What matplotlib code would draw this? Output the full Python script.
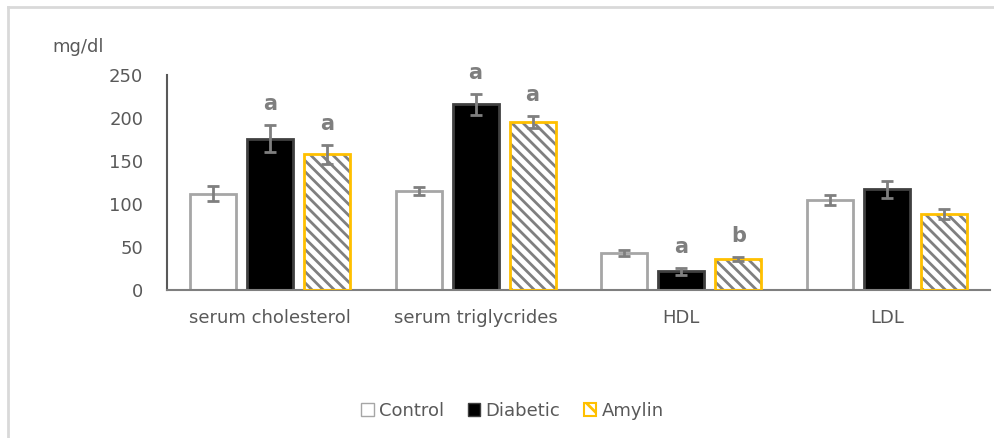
import numpy as np
import matplotlib
matplotlib.use("Agg")
import matplotlib.pyplot as plt
from matplotlib.patches import Patch
from matplotlib.lines import Line2D

plt.rcParams['font.family'] = ['DejaVu Sans']
plt.rcParams['hatch.linewidth'] = 2.0

categories = ["serum cholesterol", "serum triglycrides", "HDL", "LDL"]
groups = ["Control", "Diabetic", "Amylin"]
control = [112, 115, 43, 105]
control_err = [9, 5, 3, 6]
diabetic = [176, 216, 22, 117]
diabetic_err = [16, 12, 4, 10]
amylin = [158, 195, 36, 88]
amylin_err = [11, 7, 2.5, 6]
# significance letters (Diabetic, Amylin)
sig_diabetic = ["a", "a", "a", ""]
sig_amylin = ["a", "a", "b", ""]

yticks = [0, 50, 100, 150, 200, 250]

txt = "#595959"
errc = "#7f7f7f"

fig = plt.figure(figsize=(9.95, 4.38), dpi=100)
ax = fig.add_axes([0.1678, 0.3379, 0.8271, 0.4909])

x = np.arange(len(categories))
w = 0.223
step = 0.277

ekw = dict(ecolor=errc, elinewidth=2, capsize=4.5, capthick=2)

ax.bar(x - step, control, w, color="white", edgecolor="#a6a6a6", linewidth=2,
       yerr=control_err, error_kw=ekw, zorder=2)
ax.bar(x, diabetic, w, color="black", edgecolor="#404040", linewidth=2,
       yerr=diabetic_err, error_kw=ekw, zorder=2)
# hatched fill, then the gold outline on top
ax.bar(x + step, amylin, w, color="white", edgecolor="#808080", linewidth=0,
       hatch="\\\\\\", zorder=2)
ax.bar(x + step, amylin, w, color="none", edgecolor="#ffc000", linewidth=2,
       yerr=amylin_err, error_kw=ekw, zorder=3)

for i in range(len(categories)):
    if sig_diabetic[i]:
        ax.annotate(sig_diabetic[i], (x[i], diabetic[i] + diabetic_err[i]),
                    xytext=(0, 15), textcoords="offset points", ha="center",
                    va="center", fontsize=15, fontweight="bold", color=errc)
    if sig_amylin[i]:
        ax.annotate(sig_amylin[i], (x[i] + step, amylin[i] + amylin_err[i]),
                    xytext=(0, 15), textcoords="offset points", ha="center",
                    va="center", fontsize=15, fontweight="bold", color=errc)

ax.set_xlim(-0.5, len(categories) - 0.5)
ax.set_ylim(0, 250)
ax.set_yticks(yticks)
ax.set_xticks(x)
ax.set_xticklabels(categories)
ax.tick_params(axis="y", length=0, pad=17, labelsize=13, labelcolor=txt)
ax.tick_params(axis="x", length=0, pad=14, labelsize=13, labelcolor=txt)
for s in ["top", "right"]:
    ax.spines[s].set_visible(False)
ax.spines["left"].set_color("#595959")
ax.spines["left"].set_linewidth(1.5)
ax.spines["bottom"].set_color("#7f7f7f")
ax.spines["bottom"].set_linewidth(1.5)

fig.text(52 / 995, 1 - 47 / 438, "mg/dl", fontsize=13, color=txt, va="center",
         ha="left")

handles = [
    Patch(facecolor="white", edgecolor="#a6a6a6", linewidth=1),
    Patch(facecolor="black", edgecolor="#404040", linewidth=1),
    Patch(facecolor="white", edgecolor="#ffc000", linewidth=1.5, hatch="\\\\"),
]
leg = fig.legend(handles, groups, loc="center", bbox_to_anchor=(0.515, 1 - 411 / 438),
                 ncol=3, frameon=False, fontsize=13, handlelength=0.7,
                 handleheight=0.7, handletextpad=0.3, columnspacing=1.3)
for t in leg.get_texts():
    t.set_color(txt)

# outer chart frame (cut off right/bottom)
fig.add_artist(Line2D([8 / 995, 8 / 995], [0, 1 - 7 / 438], color="#d9d9d9", lw=2))
fig.add_artist(Line2D([8 / 995, 1], [1 - 7 / 438, 1 - 7 / 438], color="#d9d9d9", lw=2))

fig.savefig("out.png", dpi=100)
